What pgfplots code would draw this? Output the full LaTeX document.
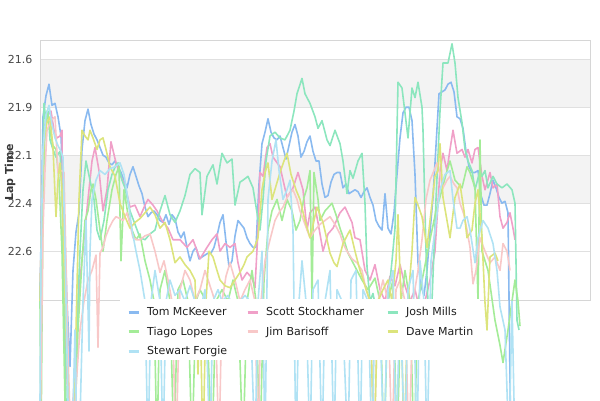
\documentclass[border=0pt]{standalone}
\usepackage{fontspec}
\setmainfont{DejaVu Sans}
\usepackage{pgfplots}
\pgfplotsset{compat=1.18}
\definecolor{cTom}{HTML}{8ABAF0}
\definecolor{cScott}{HTML}{F0A0C8}
\definecolor{cJosh}{HTML}{8CE6BE}
\definecolor{cTiago}{HTML}{A4EC98}
\definecolor{cJim}{HTML}{F8C8C8}
\definecolor{cDave}{HTML}{DCE47C}
\definecolor{cStewart}{HTML}{B0E2F4}
\definecolor{band}{HTML}{F3F3F3}
\begin{document}
\begin{tikzpicture}
\begin{axis}[
  at={(40pt,100pt)}, anchor=south west,
  width=550pt, height=260pt, scale only axis,
  set layers, clip=false,
  xmin=0, xmax=550, ymin=21.5, ymax=22.854, y dir=reverse,
  xtick=\empty,
  ytick={21.6,21.85,22.1,22.35,22.6},
  yticklabels={21.6,21.9,22.1,22.4,22.6},
  ymajorgrids, grid style={draw=black!12, line width=1pt},
  major tick length=0pt,
  axis line style={draw=black!16, line width=1pt},
  yticklabel style={font=\fontsize{11}{13}\selectfont, text=black!72, xshift=-4pt},
  ylabel={Lap Time},
  ylabel style={font=\bfseries\fontsize{11}{13}\selectfont, text=black!78, at={(axis description cs:-0.0545,0.49)}, anchor=center},
  every axis plot/.append style={line width=1.6pt, line join=round},
  legend columns=3,
  legend cell align=left,
  legend image code/.code={\draw[#1, line width=3pt] (0pt,0pt) -- (10pt,0pt);},
  legend style={at={(axis description cs:0.1582,-0.02)}, anchor=north west, draw=none, fill=none, inner sep=0pt,
    font=\fontsize{11}{13}\selectfont, text=black!88, row sep=5.5pt,
    /tikz/every odd column/.append style={column sep=5pt},
    /tikz/column 2/.append style={column sep=17pt},
    /tikz/column 4/.append style={column sep=20pt}},
]
\addplot[forget plot, on layer=axis background, draw=none, fill=band] coordinates {(0,21.6) (550,21.6) (550,21.85) (0,21.85)} --cycle;
\addplot[forget plot, on layer=axis background, draw=none, fill=band] coordinates {(0,22.1) (550,22.1) (550,22.35) (0,22.35)} --cycle;

% Tom McKeever
\addplot[cTom] coordinates {(0,22.86)(3,21.90)(6,21.79)(9,21.73)(12,21.84)(15,21.83)(18,21.90)(21,22.00)(24,22.40)(27,22.86)(30,23.20)(33,22.70)(36,22.50)(39,22.40)(42,22.07)(45,21.92)(48,21.86)(51,21.94)(54,21.99)(57,22.02)(60,22.06)(63,22.10)(66,22.11)(69,22.14)(72,22.15)(75,22.13)(78,22.16)(81,22.19)(84,22.23)(87,22.27)(90,22.20)(93,22.16)(96,22.21)(99,22.26)(102,22.30)(105,22.37)(108,22.42)(111,22.40)(114,22.39)(117,22.41)(120,22.44)(123,22.45)(126,22.41)(129,22.46)(132,22.41)(135,22.43)(138,22.50)(141,22.53)(144,22.50)(147,22.58)(150,22.65)(153,22.60)(156,22.58)(159,22.64)(162,22.63)(165,22.62)(168,22.61)(171,22.61)(174,22.58)(177,22.52)(180,22.45)(183,22.41)(186,22.55)(189,22.68)(192,22.65)(195,22.52)(198,22.44)(201,22.46)(204,22.48)(207,22.53)(210,22.56)(213,22.58)(216,22.58)(219,22.25)(222,22.04)(225,21.98)(228,21.91)(231,21.98)(234,22.01)(237,22.02)(240,22.00)(243,22.06)(246,22.12)(249,22.05)(252,21.98)(255,21.94)(258,22.00)(261,22.11)(264,22.08)(267,22.03)(270,22.00)(273,22.08)(276,22.13)(279,22.13)(282,22.25)(285,22.32)(288,22.31)(291,22.24)(294,22.20)(297,22.19)(300,22.19)(303,22.27)(306,22.25)(309,22.30)(312,22.29)(315,22.28)(318,22.29)(321,22.32)(324,22.29)(327,22.27)(330,22.32)(333,22.36)(336,22.44)(339,22.47)(342,22.49)(345,22.30)(348,22.48)(351,22.51)(354,22.40)(357,22.20)(360,22.01)(363,21.88)(366,21.85)(369,21.85)(372,21.92)(375,22.20)(378,22.66)(381,22.78)(384,22.83)(387,22.70)(390,22.50)(393,22.32)(396,22.05)(399,21.78)(402,21.77)(405,21.76)(408,21.73)(411,21.72)(414,21.77)(417,21.90)(420,21.91)(423,21.96)(426,22.08)(429,22.16)(432,22.19)(435,22.19)(438,22.18)(441,22.31)(444,22.36)(447,22.36)(450,22.30)(453,22.23)(456,22.27)(459,22.32)(462,22.35)(465,22.34)(468,22.40)(471,23.70)};
\addlegendentry{Tom McKeever}

% Scott Stockhamer
\addplot[cScott] coordinates {(0,22.86)(2,22.33)(5,21.94)(8,21.89)(11,21.87)(14,21.97)(17,22.01)(20,22.00)(22,21.97)(23,22.70)(25,23.01)(28,23.38)(32,23.48)(36,23.12)(40,22.75)(44,22.54)(48,22.33)(52,22.13)(55,22.06)(59,22.18)(63,22.39)(67,22.28)(71,22.03)(76,22.14)(80,22.20)(85,22.26)(90,22.37)(95,22.36)(100,22.42)(105,22.36)(108,22.33)(113,22.36)(117,22.39)(122,22.44)(128,22.48)(133,22.54)(140,22.54)(147,22.58)(153,22.54)(160,22.64)(167,22.58)(172,22.54)(177,22.51)(180,22.60)(185,22.56)(190,22.58)(195,22.56)(198,22.66)(202,22.75)(207,22.71)(212,22.74)(215,22.79)(218,22.49)(220,22.19)(223,22.21)(227,22.06)(230,22.04)(233,22.11)(240,22.16)(247,22.32)(253,22.27)(258,22.19)(263,22.28)(267,22.49)(270,22.40)(275,22.37)(278,22.45)(283,22.60)(288,22.51)(293,22.48)(300,22.40)(305,22.37)(312,22.45)(315,22.53)(320,22.54)(325,22.70)(330,22.75)(335,22.67)(340,22.80)(345,22.86)(350,22.73)(355,22.78)(360,22.67)(365,22.78)(370,22.86)(375,22.80)(380,22.91)(385,22.86)(390,22.75)(395,22.60)(400,22.18)(403,22.09)(407,22.18)(410,22.07)(413,21.97)(417,22.09)(422,22.07)(425,22.11)(428,22.07)(432,22.14)(435,22.07)(438,22.06)(442,22.21)(445,22.28)(450,22.19)(453,22.27)(457,22.25)(460,22.42)(463,22.48)(467,22.45)(470,22.40)(473,22.48)(475,22.54)};
\addlegendentry{Scott Stockhamer}

% Josh Mills
\addplot[cJosh] coordinates {(0,22.86)(2,22.49)(4,21.83)(6,21.92)(8,21.87)(10,22.02)(13,22.07)(16,22.11)(20,22.08)(22,22.28)(24,22.86)(26,23.38)(30,23.64)(34,23.48)(38,22.86)(40,22.60)(43,22.28)(46,22.13)(50,22.23)(54,22.33)(57,22.49)(60,22.54)(64,22.44)(68,22.28)(72,22.20)(76,22.15)(78,22.14)(82,22.23)(85,22.27)(90,22.39)(95,22.46)(100,22.53)(105,22.54)(110,22.51)(115,22.49)(120,22.39)(125,22.31)(130,22.41)(135,22.45)(140,22.39)(145,22.31)(150,22.20)(155,22.17)(160,22.19)(162,22.41)(167,22.21)(173,22.15)(177,22.25)(182,22.09)(187,22.14)(192,22.12)(195,22.36)(200,22.24)(203,22.23)(208,22.21)(213,22.27)(217,22.40)(220,22.49)(223,22.33)(226,22.13)(230,22.00)(235,21.98)(240,22.01)(245,22.02)(250,21.97)(254,21.87)(257,21.78)(262,21.70)(265,21.78)(270,21.83)(275,21.90)(278,21.96)(282,21.92)(287,22.02)(290,22.05)(295,21.97)(300,22.04)(303,22.13)(307,22.30)(310,22.18)(313,22.22)(318,22.13)(322,22.09)(325,22.35)(327,22.68)(330,22.86)(333,22.82)(338,22.96)(343,23.01)(348,22.86)(352,22.65)(355,22.48)(358,21.72)(362,21.75)(365,21.88)(368,22.01)(372,21.75)(375,21.80)(378,21.72)(382,21.85)(383,21.97)(386,22.60)(389,23.01)(392,22.86)(396,22.33)(400,21.87)(403,21.62)(408,21.62)(412,21.52)(415,21.62)(418,21.80)(422,21.93)(425,22.07)(428,22.13)(432,22.18)(435,22.28)(440,22.18)(442,22.21)(445,22.18)(448,22.27)(453,22.21)(457,22.25)(462,22.27)(467,22.25)(472,22.28)(475,22.35)(477,22.96)(479,23.01)};
\addlegendentry{Josh Mills}

% Tiago Lopes
\addplot[cTiago] coordinates {(0,22.86)(1,23.64)(3,22.33)(5,21.97)(7,21.87)(10,21.97)(13,22.05)(16,22.07)(19,22.23)(22,22.60)(24,23.12)(26,23.64)(34,23.64)(38,23.01)(42,22.65)(45,22.44)(48,22.39)(51,22.28)(53,22.25)(56,22.33)(60,22.49)(63,22.60)(67,22.44)(72,22.28)(76,22.20)(79,22.16)(81,22.65)(84,22.28)(88,22.41)(92,22.49)(96,22.54)(100,22.51)(105,22.65)(110,22.75)(114,22.86)(117,23.64)(120,22.80)(125,22.70)(130,22.86)(134,23.64)(138,22.80)(143,22.75)(148,22.86)(152,23.64)(156,22.86)(160,22.80)(166,22.86)(172,23.64)(176,22.86)(182,22.80)(188,22.86)(193,22.75)(198,22.86)(203,23.64)(207,22.86)(212,22.70)(216,22.86)(220,23.64)(224,22.75)(228,22.49)(232,22.39)(237,22.33)(242,22.44)(247,22.33)(252,22.39)(256,22.49)(260,22.44)(264,22.32)(267,22.27)(270,22.18)(272,22.86)(274,22.19)(278,22.33)(280,22.44)(285,22.39)(292,22.35)(296,22.41)(300,22.48)(304,22.54)(308,22.61)(315,22.68)(322,22.75)(328,22.80)(335,22.74)(340,22.86)(344,23.64)(348,22.86)(353,22.75)(357,23.64)(361,22.86)(365,22.70)(370,22.86)(374,23.64)(378,22.86)(384,22.70)(390,22.54)(396,22.39)(402,22.28)(406,22.20)(410,22.13)(415,22.23)(422,22.27)(427,22.16)(430,22.19)(435,22.27)(438,22.86)(440,22.02)(442,22.60)(448,22.70)(455,22.96)(460,23.09)(463,23.18)(468,23.01)(472,22.86)(475,22.75)(478,22.86)(480,22.99)};
\addlegendentry{Tiago Lopes}

% Jim Barisoff
\addplot[cJim] coordinates {(0,23.64)(2,22.86)(3,22.49)(5,22.18)(7,21.97)(11,21.92)(15,21.90)(18,22.19)(22,22.18)(24,22.19)(26,22.65)(28,23.12)(31,23.64)(35,23.38)(40,23.01)(44,22.86)(48,22.75)(52,22.70)(56,22.62)(58,23.10)(60,22.61)(63,22.58)(66,22.52)(69,22.48)(73,22.44)(76,22.42)(80,22.43)(83,22.44)(87,22.40)(90,22.46)(93,22.53)(97,22.54)(100,22.54)(105,22.52)(110,22.51)(115,22.60)(120,22.71)(124,22.65)(128,22.75)(132,22.86)(136,23.64)(140,22.80)(145,22.70)(150,22.75)(155,22.86)(160,22.80)(165,22.70)(170,22.78)(175,22.86)(179,23.64)(182,22.86)(186,22.73)(190,22.66)(195,22.75)(200,22.86)(205,22.80)(210,22.75)(215,22.86)(218,23.64)(221,22.86)(225,22.65)(230,22.54)(235,22.44)(240,22.39)(243,22.37)(248,22.31)(253,22.28)(257,22.33)(260,22.39)(265,22.46)(270,22.53)(275,22.49)(280,22.46)(285,22.44)(290,22.42)(295,22.46)(300,22.51)(304,22.57)(307,22.60)(312,22.64)(317,22.66)(322,22.70)(326,22.80)(330,22.86)(334,23.64)(338,22.86)(343,22.75)(348,22.86)(352,23.64)(356,22.80)(360,22.75)(365,22.86)(369,23.64)(373,22.86)(378,22.70)(382,22.54)(386,22.33)(390,22.23)(394,22.18)(397,22.14)(400,22.20)(403,22.27)(407,22.23)(410,22.21)(414,22.25)(417,22.27)(420,22.35)(424,22.41)(427,22.49)(430,22.58)(433,22.77)(436,22.70)(440,22.53)(445,22.60)(450,22.66)(455,22.63)(460,22.70)(463,22.56)(467,22.60)(470,22.70)};
\addlegendentry{Jim Barisoff}

% Dave Martin
\addplot[cDave] coordinates {(0,22.86)(2,22.33)(4,22.02)(7,21.93)(10,21.90)(13,22.06)(16,22.42)(18,22.23)(20,22.14)(22,22.28)(24,22.65)(26,23.01)(29,23.48)(32,23.64)(36,23.01)(39,22.33)(42,21.97)(45,22.00)(48,22.02)(50,21.97)(53,22.01)(57,22.07)(60,22.02)(63,22.01)(66,22.07)(70,22.16)(75,22.21)(80,22.35)(85,22.42)(90,22.48)(95,22.45)(100,22.43)(105,22.40)(110,22.37)(115,22.41)(120,22.48)(125,22.45)(130,22.54)(135,22.66)(140,22.63)(145,22.67)(150,22.70)(155,22.75)(158,23.24)(160,22.86)(163,23.64)(166,22.86)(169,22.60)(173,22.63)(177,22.70)(180,22.75)(185,22.78)(190,22.79)(195,22.75)(200,22.71)(204,22.67)(207,22.63)(213,22.60)(218,22.53)(222,22.28)(225,22.19)(228,22.14)(232,22.33)(236,22.26)(240,22.19)(244,22.13)(247,22.09)(251,22.20)(256,22.28)(260,22.33)(265,22.44)(270,22.53)(274,22.44)(277,22.37)(280,22.41)(283,22.45)(287,22.54)(290,22.61)(294,22.66)(297,22.68)(300,22.62)(303,22.56)(307,22.52)(310,22.49)(315,22.60)(320,22.70)(325,22.78)(330,22.86)(334,23.64)(338,22.86)(343,22.80)(348,22.75)(352,22.86)(356,22.65)(358,22.41)(361,22.86)(364,23.64)(368,22.86)(372,22.60)(375,22.32)(378,22.36)(382,22.42)(387,22.58)(392,22.35)(395,22.21)(398,22.18)(400,22.04)(403,22.32)(407,22.44)(410,22.53)(415,22.32)(420,22.25)(424,22.39)(427,22.53)(432,22.49)(435,22.35)(438,22.28)(442,22.53)(445,22.87)(447,23.01)(450,22.63)(455,22.61)(458,22.65)};
\addlegendentry{Dave Martin}

% Stewart Forgie
\addplot[cStewart] coordinates {(0,23.38)(1,22.60)(3,22.07)(6,21.89)(9,21.84)(12,21.94)(15,22.01)(18,22.05)(21,22.08)(23,22.11)(25,22.60)(27,23.12)(29,23.64)(32,23.64)(35,23.01)(37,23.64)(40,23.48)(43,22.86)(46,22.44)(49,23.12)(50,22.60)(52,22.33)(56,22.23)(60,22.18)(65,22.20)(70,22.17)(75,22.16)(80,22.14)(84,22.20)(88,22.33)(92,22.49)(96,22.60)(100,22.70)(105,22.86)(108,23.64)(111,22.86)(115,22.70)(120,22.86)(123,23.64)(126,22.86)(130,22.75)(135,22.83)(140,22.80)(145,22.86)(150,22.78)(155,22.86)(160,22.91)(165,22.80)(170,23.64)(173,22.86)(178,22.80)(182,22.86)(188,22.83)(195,22.91)(200,22.86)(205,22.83)(210,22.86)(215,23.64)(218,22.86)(222,22.60)(225,23.64)(228,22.33)(232,22.13)(236,22.02)(239,22.18)(243,22.33)(247,22.28)(250,22.23)(253,22.49)(256,23.64)(259,22.86)(262,22.65)(266,22.86)(270,23.64)(273,22.80)(278,22.75)(282,23.64)(285,22.86)(290,22.70)(294,23.64)(297,22.80)(302,22.86)(308,23.64)(311,22.75)(316,22.70)(320,23.64)(323,22.80)(328,22.86)(332,23.64)(335,22.86)(340,22.96)(344,23.64)(348,22.80)(353,22.70)(356,23.64)(360,22.86)(365,23.64)(368,22.80)(373,22.70)(377,23.64)(380,22.65)(384,22.86)(387,23.64)(391,22.65)(395,22.49)(400,22.28)(405,22.20)(410,22.18)(413,22.33)(417,22.48)(420,22.48)(423,22.44)(427,22.42)(430,22.49)(435,22.66)(438,22.53)(443,22.44)(448,22.48)(453,22.56)(457,22.70)(460,22.89)(465,23.01)(469,23.64)(472,22.86)(475,23.64)};
\addlegendentry{Stewart Forgie}

\fill[white] (axis description cs:0.14545,0.004) rectangle (axis description cs:0.8,-0.2308);
\end{axis}
\pgfresetboundingbox
\useasboundingbox (0,0) rectangle (600pt,400pt);
\end{tikzpicture}
\end{document}
